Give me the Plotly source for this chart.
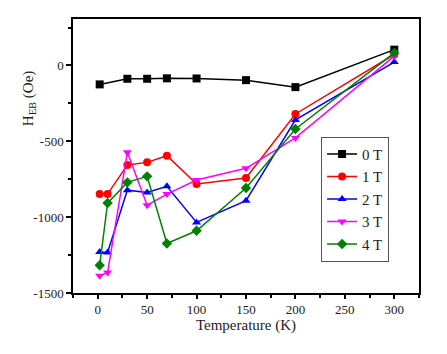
import plotly.graph_objects as go

temps = [2, 10, 30, 50, 70, 100, 150, 200, 300]
temps_0T = [2, 30, 50, 70, 100, 150, 200, 300]
h_0T = [-125, -88, -88, -85, -86, -97, -143, 104]
h_1T = [-848, -848, -656, -639, -595, -782, -742, -320, 72]
h_2T = [-1229, -1233, -822, -837, -797, -1035, -892, -359, 22]
h_3T = [-1387, -1365, -573, -921, -848, -755, -678, -478, 61]
h_4T = [-1317, -907, -771, -731, -1174, -1090, -808, -419, 83]

x_ticks = [0, 50, 100, 150, 200, 250, 300]
y_ticks = [-1500, -1000, -500, 0]
y_tick_text = ["-1500", "-1000", "-500", "0"]

series = [
    ("0 T", temps_0T, h_0T, "black", "square"),
    ("1 T", temps, h_1T, "#ff0000", "circle"),
    ("2 T", temps, h_2T, "#0000ff", "triangle-up"),
    ("3 T", temps, h_3T, "#ff00ff", "triangle-down"),
    ("4 T", temps, h_4T, "#008000", "diamond"),
]

fig = go.Figure()
for name, x, y, c, sym in series:
    fig.add_trace(go.Scatter(x=x, y=y, name=name, mode="lines+markers",
                             line=dict(color=c, width=1.5),
                             marker=dict(symbol=sym, size=8, color=c)))

font = "Liberation Serif, DejaVu Serif, serif"
fig.update_layout(
    width=439, height=346,
    margin=dict(l=65, r=28, t=9, b=61),
    paper_bgcolor="white", plot_bgcolor="white",
    font=dict(family=font, size=13, color="#222"),
    showlegend=True,
    legend=dict(x=0.717, y=0.57, xanchor="left", yanchor="top",
                bordercolor="#555", borderwidth=1, bgcolor="white",
                font=dict(family=font, size=15, color="#222"),
                itemwidth=30, tracegroupgap=0),
    xaxis=dict(range=[-25, 325], tickvals=x_ticks,
               ticks="outside", ticklen=4, tickwidth=1.5, tickcolor="black",
               tickfont=dict(family=font, size=13, color="#222"),
               showline=True, linecolor="black", linewidth=1.5, mirror=True,
               showgrid=False, zeroline=False,
               minor=dict(tickvals=[-25, 25, 75, 125, 175, 225, 275, 325], ticks="outside",
                          ticklen=3, tickwidth=1.5, tickcolor="black"),
               title=dict(text="Temperature (K)", font=dict(family=font, size=15, color="#222"),
                          standoff=3)),
    yaxis=dict(range=[-1500, 306], tickvals=y_ticks, ticktext=y_tick_text,
               ticks="outside", ticklen=5, tickwidth=1.5, tickcolor="black",
               tickfont=dict(family=font, size=13, color="#222"),
               showline=True, linecolor="black", linewidth=1.5, mirror=True,
               showgrid=False, zeroline=False,
               minor=dict(tickvals=[-1250, -750, -250, 250], ticks="outside",
                          ticklen=3, tickwidth=1.5, tickcolor="black")),
    annotations=[dict(text="H<sub>EB</sub> (Oe)", textangle=-90, xref="paper", yref="paper",
                      x=-0.125, y=0.71, xanchor="center", yanchor="middle", showarrow=False,
                      font=dict(family=font, size=15, color="#222"))],
)
fig.write_html("out.html")
